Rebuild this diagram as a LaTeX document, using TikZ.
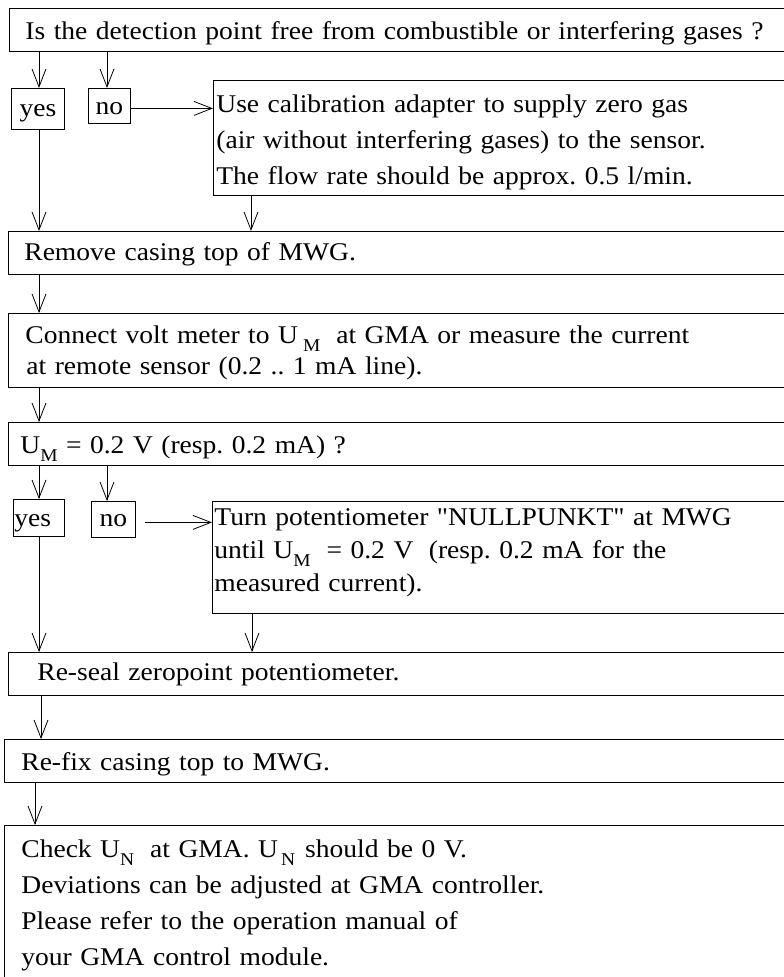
\documentclass[tikz,border=0pt]{standalone}
\usepackage{fontspec}
\setmainfont{Liberation Serif}[FakeStretch=1.08]
\newfontfamily\plainq{Liberation Serif}[FakeStretch=1.08]
\usetikzlibrary{arrows.meta}
\newcommand\lsub[1]{\raisebox{-0.3em}{\fontsize{18pt}{18pt}\selectfont #1}}
\newcommand\dq{{\plainq\char34}}
\frenchspacing
\begin{document}
\begin{tikzpicture}[x=1pt,y=-1pt,
  font=\fontsize{25.5pt}{30pt}\selectfont,
  bx/.style={draw, line width=0.8pt, anchor=north west, inner ysep=0pt, align=left},
  arr/.style={draw, line width=0.8pt, -{Straight Barb[length=18pt,width=14pt]}}]
\useasboundingbox (0,0) rectangle (784,977);
\clip (0,0) rectangle (784,977);
\fill[white] (0,0) rectangle (784,977);

% column coordinates
\coordinate (xa) at (39,0);
\coordinate (xb) at (107,0);
\coordinate (xc) at (251,0);
\coordinate (xd) at (252,0);
\coordinate (xe) at (41,0);
\coordinate (xf) at (35,0);

% boxes
\node[bx, inner xsep=16pt, text width=759pt, text height=31pt, text depth=12pt] (q1) at (9,8)
  {Is the detection point free from combustible or interfering gases ?};
\node[bx, align=center, inner xsep=2pt, text width=49pt, text height=28pt, text depth=13pt] (yes1) at (11,88) {yes};
\node[bx, align=center, inner xsep=2pt, text width=38pt, text height=26pt, text depth=9pt] (no1) at (88,88) {no};
\node[bx, inner xsep=3pt, text width=581pt, text height=32pt, text depth=83pt,
  font=\fontsize{25.5pt}{36pt}\selectfont] (use) at (213,80)
  {Use calibration adapter to supply zero gas\\(air without interfering gases) to the sensor.\\The flow rate should be approx. 0.5 l/min.};
\node[bx, inner xsep=16pt, text width=760pt, text height=29pt, text depth=14pt] (remove) at (8,231)
  {Remove casing top of MWG.};
\node[bx, inner xsep=17pt, text width=758pt, text height=30pt, text depth=44pt,
  font=\fontsize{25.5pt}{31pt}\selectfont] (connect) at (8,313)
  {Connect volt meter to U\hspace{5pt}\lsub{M}\hspace{16pt}at GMA or measure the current\\\hspace{1pt}at remote sensor (0.2 .. 1 mA line).};
\node[bx, inner xsep=12pt, text width=768pt, text height=31pt, text depth=12pt] (um) at (8,422)
  {U\lsub{M} = 0.2 V (resp. 0.2 mA) ?};
\node[bx, inner xsep=1pt, text width=49pt, text height=27pt, text depth=10pt] (yes2) at (13,499) {yes};
\node[bx, align=center, inner xsep=2pt, text width=40pt, text height=25pt, text depth=11pt] (no2) at (91,501) {no};
\node[bx, inner xsep=2pt, text width=584pt, text height=24pt, text depth=88pt,
  font=\fontsize{25.5pt}{33pt}\selectfont] (turn) at (212,501)
  {Turn potentiometer \dq NULLPUNKT\dq{} at MWG\\until U\lsub{M}\hspace{16pt}= 0.2 V\hspace{7pt} (resp. 0.2 mA for the\\measured current).};
\node[bx, inner xsep=29pt, text width=734pt, text height=28pt, text depth=15pt] (reseal) at (8,652)
  {Re-seal zeropoint potentiometer.};
\node[bx, inner xsep=17pt, text width=762pt, text height=31pt, text depth=12pt] (refix) at (4,739)
  {Re-fix casing top to MWG.};
\node[bx, inner xsep=17pt, text width=762pt, text height=32pt, text depth=138pt,
  font=\fontsize{25.5pt}{36pt}\selectfont] (check) at (4,825)
  {Check U\lsub{N}\hspace{16pt}at GMA. U\hspace{3pt}\lsub{N}\hspace{10pt}should be 0 V.\\Deviations can be adjusted at GMA controller.\\Please refer to the operation manual of\\your GMA control module.};

% connectors
\draw[arr] (q1.south -| xa) -- (yes1.north -| xa);
\draw[arr] (q1.south -| xb) -- (no1.north -| xb);
\draw[arr] ([yshift=-2.5pt]no1.east) -- ([yshift=-2.5pt]no1.east -| use.west);
\draw[arr] (yes1.south -| xa) -- (remove.north -| xa);
\draw[arr] (use.south -| xc) -- (remove.north -| xc);
\draw[arr] (remove.south -| xa) -- (connect.north -| xa);
\draw[arr] (connect.south -| xa) -- (um.north -| xa);
\draw[arr] (um.south -| xa) -- (yes2.north -| xa);
\draw[arr] (um.south -| xb) -- (no2.north -| xb);
\draw[arr] ([xshift=9pt,yshift=-3pt]no2.east) -- ([yshift=-3pt]no2.east -| turn.west);
\draw[arr] (yes2.south -| xa) -- (reseal.north -| xa);
\draw[arr] (turn.south -| xd) -- (reseal.north -| xd);
\draw[arr] (reseal.south -| xe) -- (refix.north -| xe);
\draw[arr] (refix.south -| xf) -- (check.north -| xf);
\end{tikzpicture}
\end{document}
